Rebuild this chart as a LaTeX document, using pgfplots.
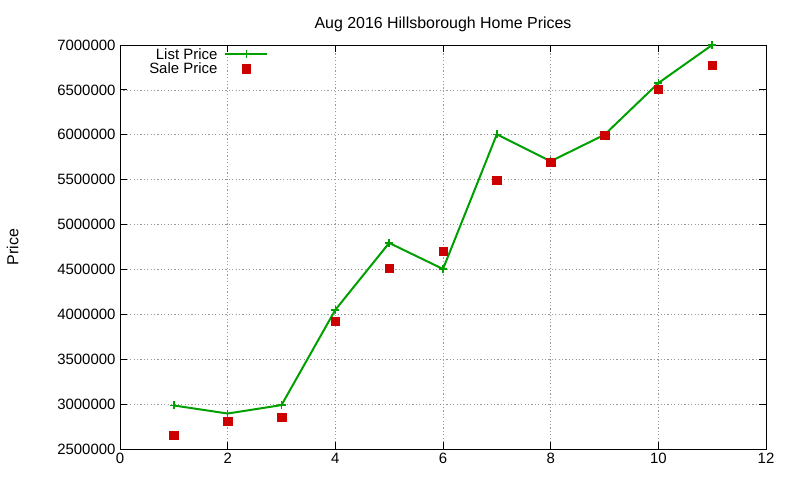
\documentclass[border=0pt]{standalone}
\usepackage{pgfplots}
\pgfplotsset{compat=1.18}
\usepackage{fontspec}
\setmainfont{Liberation Sans}
\definecolor{gpgreen}{RGB}{0,160,0}
\definecolor{gpred}{RGB}{204,0,0}
\begin{document}
\begin{tikzpicture}
\begin{axis}[
  at={(0,0)}, anchor=south west,
  scale only axis, width=646bp, height=404bp,
  xmin=0, xmax=12, ymin=2500000, ymax=7000000,
  xtick={0,2,...,12},
  ytick={2500000,3000000,...,7000000},
  scaled y ticks=false,
  /pgf/number format/fixed,
  /pgf/number format/1000 sep={},
  /pgf/number format/assume math mode=true,
  tick align=inside,
  major tick length=7bp,
  tick style={black, line width=0.8pt},
  axis line style={line width=0.8pt},
  grid=major,
  grid style={gray!80, dash pattern=on 1.2bp off 2.2bp, line width=0.6pt},
  ticklabel style={font=\fontsize{15}{17}\selectfont},
  yticklabel style={xshift=-1bp},
  xticklabel style={yshift=-1bp},
  title={Aug 2016 Hillsborough Home Prices},
  title style={font=\fontsize{16}{18}\selectfont, yshift=4bp},
  ylabel={Price},
  ylabel style={font=\fontsize{16}{18}\selectfont, at={(axis description cs:-0.166,0.5)}, anchor=center},
  legend style={draw=none, fill=none, at={(0.23,0.995)}, anchor=north east,
    font=\fontsize{15}{14}\selectfont, row sep=0bp, column sep=6bp, inner sep=0bp,
    nodes={inner sep=1bp}},
  legend cell align=right,
  legend plot pos=right,
  legend image code/.code={\draw[#1, mark repeat=2, mark phase=2] plot coordinates {(0bp,0bp) (21bp,0bp) (42bp,0bp)};},
]
\addplot[gpgreen, line width=2pt, mark=+, mark size=4bp, mark options={line width=1.5pt}] coordinates {
  (1,2985000) (2,2895000) (3,2989000) (4,4050000) (5,4795000) (6,4505000)
  (7,6005000) (8,5705000) (9,6000000) (10,6576000) (11,7000000)
};
\addlegendentry{List Price}
\addplot[only marks, gpred, mark=square*, mark size=4.2bp] coordinates {
  (1,2651000) (2,2807000) (3,2851000) (4,3925000) (5,4515000) (6,4705000)
  (7,5495000) (8,5697000) (9,5996000) (10,6509000) (11,6776000)
};
\addlegendentry{Sale Price}
\end{axis}
\useasboundingbox (-120bp,-31bp) rectangle (680bp,449bp);
\end{tikzpicture}
\end{document}
